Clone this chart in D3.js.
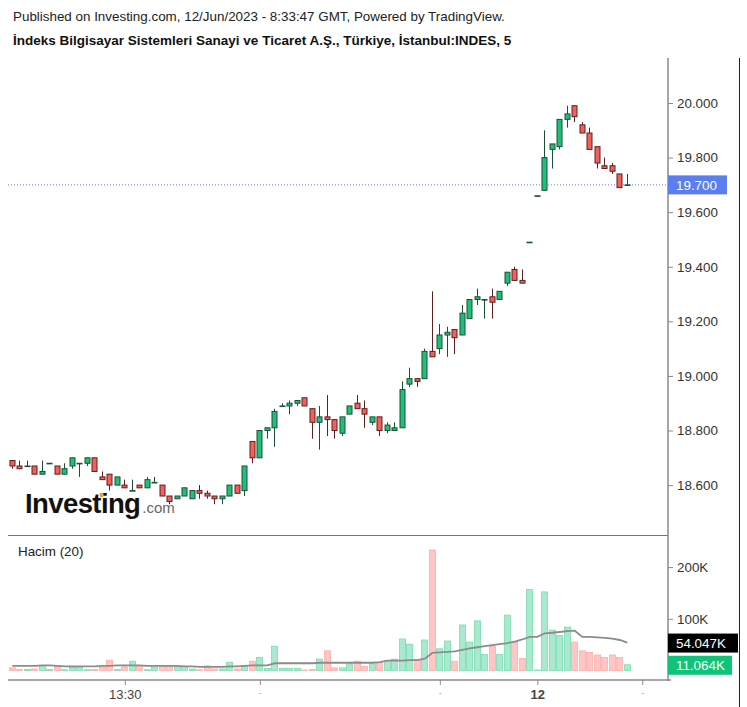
<!DOCTYPE html>
<html>
<head>
<meta charset="utf-8">
<script src="https://cdn.jsdelivr.net/npm/d3@7"></script>
<style>
  body { margin: 0; background: #fff; }
  svg { font-family: "Liberation Sans", Arial, sans-serif; }
</style>
</head>
<body>
<svg id="chart" width="747" height="707"></svg>
<script>
// 5 minute bars, INDES, 9-12 Jun 2023
var open  = [18.69,18.67,18.67,18.67,18.64,18.68,18.67,18.64,18.67,18.68,18.68,18.70,18.63,18.64,18.60,18.60,18.58,18.60,18.59,18.61,
             18.60,18.56,18.55,18.56,18.55,18.58,18.57,18.56,18.55,18.56,18.60,18.58,18.76,18.70,18.80,18.81,18.89,18.89,18.90,18.92,
             18.88,18.83,18.85,18.84,18.79,18.86,18.90,18.88,18.83,18.85,18.80,18.80,18.81,18.97,18.99,18.99,19.09,19.10,19.15,19.17,
             19.15,19.21,19.28,19.28,19.29,19.28,19.34,19.39,19.35,19.49,19.66,19.68,19.83,19.84,19.94,19.99,19.92,19.89,19.84,19.77,
             19.77,19.74,19.70];
var high  = [18.69,18.69,18.69,18.67,18.69,18.68,18.67,18.68,18.70,18.68,18.70,18.70,18.65,18.64,18.63,18.62,18.62,18.60,18.63,18.63,
             18.60,18.56,18.56,18.59,18.58,18.60,18.58,18.56,18.56,18.60,18.60,18.67,18.76,18.80,18.81,18.88,18.90,18.91,18.91,18.92,
             18.88,18.89,18.93,18.84,18.85,18.89,18.93,18.91,18.85,18.85,18.83,18.83,18.98,19.03,18.99,19.10,19.31,19.19,19.18,19.17,
             19.26,19.28,19.32,19.28,19.32,19.31,19.38,19.40,19.39,19.49,19.66,19.90,19.85,19.94,19.99,19.99,19.93,19.91,19.84,19.80,
             19.78,19.74,19.74];
var low   = [18.66,18.66,18.67,18.64,18.64,18.68,18.64,18.64,18.66,18.63,18.67,18.65,18.62,18.58,18.60,18.59,18.58,18.59,18.59,18.61,
             18.56,18.53,18.55,18.56,18.55,18.55,18.55,18.53,18.53,18.56,18.57,18.56,18.68,18.70,18.77,18.74,18.89,18.86,18.89,18.89,
             18.77,18.73,18.78,18.77,18.78,18.86,18.88,18.81,18.82,18.78,18.79,18.80,18.81,18.96,18.96,18.99,19.07,19.08,19.07,19.08,
             19.15,19.21,19.26,19.21,19.21,19.28,19.33,19.35,19.34,19.49,19.66,19.68,19.76,19.83,19.91,19.93,19.89,19.83,19.76,19.76,
             19.74,19.69,19.70];
var close = [18.67,18.66,18.67,18.64,18.65,18.68,18.64,18.66,18.70,18.68,18.70,18.65,18.62,18.60,18.63,18.59,18.58,18.59,18.62,18.61,
             18.56,18.54,18.56,18.59,18.58,18.57,18.56,18.55,18.56,18.60,18.57,18.67,18.70,18.80,18.81,18.87,18.89,18.90,18.91,18.89,
             18.83,18.85,18.84,18.80,18.85,18.89,18.88,18.86,18.85,18.80,18.82,18.81,18.95,18.99,18.98,19.09,19.07,19.15,19.16,19.14,
             19.23,19.28,19.29,19.28,19.27,19.31,19.38,19.35,19.34,19.49,19.66,19.80,19.85,19.94,19.96,19.95,19.89,19.83,19.78,19.76,
             19.75,19.69,19.70];
// volume in thousands
var volume = [5,2,2,3,9,2,9,1.5,6,7,1.5,2,6,20,2,7,18,9,1.5,6,
              9,9,7,8,3,1.5,9,3,3,16,3,9,18,25,4,47,4,4,4,1,
              2,22,38,5,5,13,18,8,13,15,19,22,61,51,21,59,233,42,57,18,
              88,55,96,31,47,31,107,55,23,157,1,152,78,68,84,55,38,35,30,25,
              30,25,11.064];
// 20-bar volume average as drawn
var volumeMA = [9,9,9,9,10,10,9,8,8,8,8,8,9,9,10,10,10,10,9,9,
                9,9,9,8,8,7,7,7,7,8,8,9,10,10,10,14,14,14,14,14,
                14,15,15,15,15,15,15,15,15,16,19,19,19,20,20,23,34,35,36,37,
                40,43,45,47,49,51,53,56,60,65,65,72,73,74.5,76,77,65,65,64,63,
                61.5,59,54.047];

var priceTicks = [18.6, 18.8, 19.0, 19.2, 19.4, 19.6, 19.8, 20.0];
var volumeTicks = [100, 200];
var timeTicks = [15, 33, 57, 70, 84];
var timeTickLabels = ["13:30", "-", "-", "12", "-"];
var lastPrice = 19.70;

var svg = d3.select("#chart");

var axisX = 668,
    paneLeft = 8,
    upFill = "#1fbf78", upStroke = "#1c4f37",
    downFill = "#f2605b", downStroke = "#5e1f1f",
    upVol = "#a9e9cd", upVolStroke = "#7adcb2",
    downVol = "#ffc6c3", downVolStroke = "#ffaca8";

var x = d3.scaleLinear().domain([0, 82]).range([12.3, 627.3]);
var y = d3.scaleLinear().domain([18.6, 20]).range([485.1, 103]);
var yv = d3.scaleLinear().domain([0, 200]).range([670.5, 567.1]);

function cx(i) { return Math.floor(x(i)) + 0.5; }

// header
svg.append("text").attr("x", 13).attr("y", 21)
    .style("font-size", "13.4px").style("fill", "#222")
    .text("Published on Investing.com, 12/Jun/2023 - 8:33:47 GMT, Powered by TradingView.");
svg.append("text").attr("x", 13).attr("y", 45)
    .style("font-size", "13.5px").style("font-weight", "bold").style("fill", "#111")
    .text("İndeks Bilgisayar Sistemleri Sanayi ve Ticaret A.Ş., Türkiye, İstanbul:INDES, 5");

// watermark
var logo = svg.append("text").attr("x", 25).attr("y", 513);
logo.append("tspan").text("Investing")
    .style("font-size", "27.5px").style("font-weight", "bold").style("fill", "#111")
    .style("letter-spacing", "-0.6px");
logo.append("tspan").text(".com").attr("dx", 2)
    .style("font-size", "15px").style("fill", "#666");
svg.append("circle").attr("cx", 101.5).attr("cy", 495).attr("r", 2.2).style("fill", "#f7a21b");

// frame
svg.append("line").attr("x1", axisX).attr("x2", axisX).attr("y1", 58).attr("y2", 681)
    .style("stroke", "#8a8a8a").style("stroke-width", 1.5);
svg.append("line").attr("x1", 739.5).attr("x2", 739.5).attr("y1", 58).attr("y2", 707)
    .style("stroke", "#222").style("stroke-width", 1);
svg.append("line").attr("x1", paneLeft).attr("x2", axisX).attr("y1", 535.5).attr("y2", 535.5)
    .style("stroke", "#777").style("stroke-width", 1);

// price axis
var pAxis = svg.append("g").attr("transform", "translate(" + axisX + ",0)")
    .call(d3.axisRight(y).tickValues(priceTicks).tickFormat(d3.format(".3f")).tickSize(5).tickPadding(4));
pAxis.select(".domain").remove();
pAxis.selectAll("line").style("stroke", "#8a8a8a");
pAxis.selectAll("text").style("font-size", "13.4px").style("fill", "#333")
    .style("font-family", "'Liberation Sans', Arial, sans-serif");

// volume axis
var vAxis = svg.append("g").attr("transform", "translate(" + axisX + ",0)")
    .call(d3.axisRight(yv).tickValues(volumeTicks).tickFormat(function(d) { return d + "K"; }).tickSize(5).tickPadding(4));
vAxis.select(".domain").remove();
vAxis.selectAll("line").style("stroke", "#8a8a8a");
vAxis.selectAll("text").style("font-size", "13.4px").style("fill", "#333")
    .style("font-family", "'Liberation Sans', Arial, sans-serif");

// time axis
var tAxis = svg.append("g").attr("transform", "translate(0,680)")
    .call(d3.axisBottom(x).tickValues(timeTicks).tickFormat(function(d, i) { return timeTickLabels[i]; }).tickSize(5).tickPadding(5));
tAxis.select(".domain").remove();
tAxis.selectAll("line").style("stroke", "#8a8a8a");
tAxis.selectAll("text")
    .style("font-family", "'Liberation Sans', Arial, sans-serif")
    .style("font-size", function(d, i) { return timeTickLabels[i] == "-" ? "9px" : "13px"; })
    .style("font-weight", function(d, i) { return timeTickLabels[i] == "12" ? "bold" : "normal"; })
    .style("fill", function(d, i) { return timeTickLabels[i] == "-" ? "#aaa" : "#444"; });
svg.append("line").attr("x1", paneLeft).attr("x2", axisX + 3).attr("y1", 680).attr("y2", 680)
    .style("stroke", "#8a8a8a").style("stroke-width", 1.5);

svg.append("text").attr("x", 18).attr("y", 556)
    .style("font-size", "13.4px").style("fill", "#222").text("Hacim (20)");

var idx = d3.range(open.length);

// volume bars
svg.append("g").selectAll("rect").data(idx).enter().append("rect")
    .attr("x", function(i) { return cx(i) - 3; })
    .attr("y", function(i) { return yv(volume[i]); })
    .attr("width", 6)
    .attr("height", function(i) { return Math.max(0.5, yv(0) - yv(volume[i])); })
    .style("fill", function(i) { return close[i] >= open[i] ? upVol : downVol; })
    .style("stroke", function(i) { return close[i] >= open[i] ? upVolStroke : downVolStroke; })
    .style("stroke-width", 0.8);

// volume average
var maLine = d3.line().x(function(i) { return x(i); }).y(function(i) { return yv(volumeMA[i]); });
svg.append("path").datum(idx).attr("d", maLine)
    .style("fill", "none").style("stroke", "#8c8c8c").style("stroke-width", 1.8);

// last price line
svg.append("line").attr("x1", paneLeft).attr("x2", axisX).attr("y1", y(lastPrice)).attr("y2", y(lastPrice))
    .style("stroke", "#5a7ef0").style("stroke-width", 1).style("stroke-dasharray", "1,2");

// candles
var candle = svg.append("g").selectAll("g").data(idx).enter().append("g");
candle.append("line")
    .attr("x1", cx).attr("x2", cx)
    .attr("y1", function(i) { return y(high[i]); })
    .attr("y2", function(i) { return y(low[i]); })
    .style("stroke", function(i) { return close[i] >= open[i] ? upStroke : downStroke; })
    .style("stroke-width", 1);
candle.append("rect")
    .attr("x", function(i) { return cx(i) - 2.5; })
    .attr("y", function(i) { return y(Math.max(open[i], close[i])); })
    .attr("width", 5)
    .attr("height", function(i) { return Math.max(0.6, Math.abs(y(open[i]) - y(close[i]))); })
    .style("fill", function(i) { return close[i] >= open[i] ? upFill : downFill; })
    .style("stroke", function(i) { return close[i] >= open[i] ? upStroke : downStroke; })
    .style("stroke-width", 1);

// value labels on the right axis
function axisLabel(yPos, text, fill, w) {
  svg.append("rect").attr("x", axisX).attr("y", yPos - 9.5).attr("width", w).attr("height", 19)
      .style("fill", fill);
  svg.append("text").attr("x", axisX + 8).attr("y", yPos + 5)
      .style("font-size", "13.4px").style("fill", "#fff").text(text);
}
axisLabel(y(lastPrice), d3.format(".3f")(lastPrice), "#5a7ef0", 59);
axisLabel(yv(volumeMA[volumeMA.length - 1]) + 0.5, d3.format(".3f")(volumeMA[volumeMA.length - 1]) + "K", "#000", 70);
axisLabel(yv(volume[volume.length - 1]) + 0.5, d3.format(".3f")(volume[volume.length - 1]) + "K", "#0fc47a", 64);
</script>
</body>
</html>
